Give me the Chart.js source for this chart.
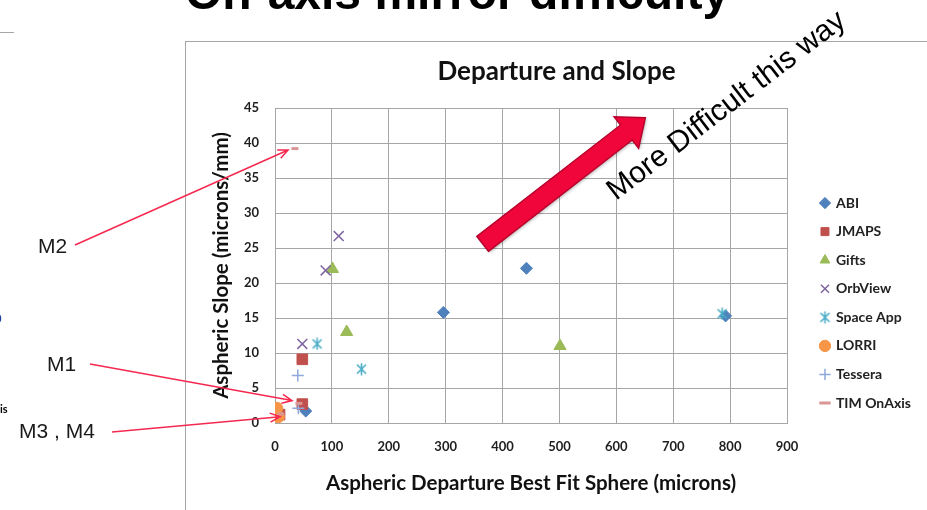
<!DOCTYPE html>
<html>
<head>
<meta charset="utf-8">
<script src="https://cdn.jsdelivr.net/npm/chart.js@4/dist/chart.umd.min.js"></script>
<style>
  html, body { margin: 0; padding: 0; background: #fff; }
  #wrap { width: 927px; height: 510px; position: relative; overflow: hidden; }
</style>
</head>
<body>
<div id="wrap"><canvas id="c" width="927" height="510"></canvas></div>
<script>
// ---- Data: aspheric departure (microns) vs aspheric slope (microns/mm) ----
const seriesNames = ['ABI', 'JMAPS', 'Gifts', 'OrbView', 'Space App', 'LORRI', 'Tessera', 'TIM OnAxis'];

const abi       = [[54, 1.7], [296, 15.8], [442, 22.1], [792, 15.3]];
const jmaps     = [[8, 1.2], [48, 9.1], [48, 2.7]];
const gifts     = [[101, 22.0], [126, 13.0], [501, 11.0]];
const orbView   = [[112, 26.7], [89, 21.8], [48, 11.3]];
const spaceApp  = [[74, 11.3], [152, 7.7], [786, 15.6]];
const lorri     = [[3, 2.1], [6, 0.9]];
const tessera   = [[40, 6.8], [41, 2.1]];
const timOnAxis = [[35, 39.2], [42, 2.8], [10, 1.3]];

const xTicks = [0, 100, 200, 300, 400, 500, 600, 700, 800, 900];
const yTicks = [0, 5, 10, 15, 20, 25, 30, 35, 40, 45];

const seriesPoints = [abi, jmaps, gifts, orbView, spaceApp, lorri, tessera, timOnAxis];

// ---- Marker styling (Office-style palette) ----
const seriesColors = ['#4F81BD', '#C0504D', '#9BBB59', '#8064A2', '#4BACC6', '#F79646', '#8EA9DB', '#D99694'];

function asteriskMarker(color) {
  const s = 13;
  const c = document.createElement('canvas');
  c.width = s; c.height = s;
  const g = c.getContext('2d');
  g.strokeStyle = color;
  g.lineWidth = 1.6;
  g.beginPath();
  g.moveTo(2, 2); g.lineTo(11, 11);
  g.moveTo(11, 2); g.lineTo(2, 11);
  g.moveTo(6.5, 0.5); g.lineTo(6.5, 12.5);
  g.stroke();
  return c;
}

const markerStyles = [
  { pointStyle: 'rectRot',  radius: 6,   borderWidth: 1 },
  { pointStyle: 'rect',     radius: 7.5, borderWidth: 1 },
  { pointStyle: 'triangle', radius: 7,   borderWidth: 1 },
  { pointStyle: 'crossRot', radius: 7,   borderWidth: 1.5 },
  { pointStyle: asteriskMarker(seriesColors[4]), radius: 6, borderWidth: 1.5 },
  { pointStyle: 'circle',   radius: 6,   borderWidth: 1 },
  { pointStyle: 'cross',    radius: 6,   borderWidth: 1.5 },
  { pointStyle: 'line',     radius: 3.5, borderWidth: 3 }
];

const datasets = seriesNames.map((name, i) => ({
  label: name,
  data: seriesPoints[i].map(p => ({ x: p[0], y: p[1] })),
  showLine: false,
  pointStyle: markerStyles[i].pointStyle,
  pointRadius: markerStyles[i].radius,
  pointHoverRadius: markerStyles[i].radius,
  pointBorderWidth: markerStyles[i].borderWidth,
  borderColor: seriesColors[i],
  backgroundColor: seriesColors[i],
  pointBackgroundColor: seriesColors[i],
  pointBorderColor: seriesColors[i],
  order: seriesNames.length - i   // later series drawn on top
}));

// ---- Annotation geometry (data coordinates for arrow ends inside the plot) ----
const trendArrow = { from: [365, 25.6], to: [651, 43.6] };
const callouts = [
  { text: 'M2',      tx: 38, ty: 247, sx: 75,  sy: 245, target: [23, 39.0] },
  { text: 'M1',      tx: 47, ty: 365, sx: 90,  sy: 364, target: [30, 3.2] },
  { text: 'M3 , M4', tx: 19, ty: 432, sx: 112, sy: 432, target: [9, 0.9] }
];

function openArrow(ctx, x1, y1, x2, y2) {
  const a = Math.atan2(y2 - y1, x2 - x1);
  const len = 11, spread = 0.42;
  ctx.beginPath();
  ctx.moveTo(x1, y1);
  ctx.lineTo(x2, y2);
  ctx.moveTo(x2 - len * Math.cos(a - spread), y2 - len * Math.sin(a - spread));
  ctx.lineTo(x2, y2);
  ctx.lineTo(x2 - len * Math.cos(a + spread), y2 - len * Math.sin(a + spread));
  ctx.stroke();
}

function blockArrow(ctx, tx, ty, px, py) {
  const dx = px - tx, dy = py - ty;
  const L = Math.hypot(dx, dy);
  const ux = dx / L, uy = dy / L, nx = -uy, ny = ux;
  const headLen = 24, sw = 9.5, hw = 20;
  const bx = px - ux * headLen, by = py - uy * headLen;
  const pts = [
    [tx + nx * sw, ty + ny * sw],
    [bx + nx * sw, by + ny * sw],
    [bx + nx * hw, by + ny * hw],
    [px, py],
    [bx - nx * hw, by - ny * hw],
    [bx - nx * sw, by - ny * sw],
    [tx - nx * sw, ty - ny * sw]
  ];
  ctx.beginPath();
  pts.forEach((p, i) => (i ? ctx.lineTo(p[0], p[1]) : ctx.moveTo(p[0], p[1])));
  ctx.closePath();
  ctx.save();
  ctx.shadowColor = 'rgba(0,0,0,0.25)';
  ctx.shadowBlur = 3;
  ctx.shadowOffsetX = 1.5;
  ctx.shadowOffsetY = 1.5;
  ctx.fillStyle = '#F0063A';
  ctx.fill();
  ctx.restore();
  ctx.lineWidth = 1.5;
  ctx.strokeStyle = '#B8022C';
  ctx.stroke();
}

// Slide elements around the chart: frame, heading, callouts and the trend arrow
const slideArt = {
  id: 'slideArt',
  beforeDraw(chart) {
    const ctx = chart.ctx;
    ctx.save();
    ctx.fillStyle = '#ffffff';
    ctx.fillRect(0, 0, chart.width, chart.height);
    ctx.strokeStyle = '#a6a6a6';
    ctx.lineWidth = 1;
    ctx.strokeRect(185.5, 41.5, 900, 600);
    ctx.beginPath();
    ctx.moveTo(0, 32.5); ctx.lineTo(14, 32.5);
    ctx.stroke();
    ctx.restore();
  },
  afterDraw(chart) {
    const ctx = chart.ctx;
    const xs = chart.scales.x, ys = chart.scales.y;
    ctx.save();

    // Slide heading (runs off the top edge)
    ctx.fillStyle = '#000';
    ctx.font = 'bold 48px "Liberation Sans", Arial, sans-serif';
    ctx.textBaseline = 'alphabetic';
    ctx.textAlign = 'left';
    ctx.fillText('On-axis mirror difficulty', 185, 9);

    // Fragments of neighbouring slide text
    ctx.font = 'bold 11px Lato, sans-serif';
    ctx.fillText('is', 0, 413);
    ctx.fillStyle = '#1F3F9F';
    ctx.font = '16px "Liberation Sans", sans-serif';
    ctx.fillText('o', -7, 323);

    // Callout labels and arrows
    ctx.fillStyle = '#1a1a1a';
    ctx.font = '21px "Liberation Sans", Arial, sans-serif';
    ctx.textBaseline = 'middle';
    ctx.strokeStyle = '#F5294F';
    ctx.lineWidth = 1.5;
    callouts.forEach(c => {
      ctx.fillText(c.text, c.tx, c.ty);
      openArrow(ctx, c.sx, c.sy, xs.getPixelForValue(c.target[0]), ys.getPixelForValue(c.target[1]));
    });

    // Trend arrow
    blockArrow(ctx,
      xs.getPixelForValue(trendArrow.from[0]), ys.getPixelForValue(trendArrow.from[1]),
      xs.getPixelForValue(trendArrow.to[0]), ys.getPixelForValue(trendArrow.to[1]));

    // Rotated caption
    ctx.translate(616, 201);
    ctx.rotate(-37.4 * Math.PI / 180);
    ctx.fillStyle = '#000';
    ctx.font = '30px "Liberation Sans", Arial, sans-serif';
    ctx.textBaseline = 'alphabetic';
    ctx.fillText('More Difficult this way', 0, 0);
    ctx.restore();
  }
};

// Fixed-width legend column to the right of the plot
const legendPlacement = {
  id: 'legendPlacement',
  beforeLayout(chart) {
    const lg = chart.legend;
    if (lg && !lg.$fixedWidth) {
      const fit = lg.fit;
      lg.fit = function () { fit.call(this); this.width = 140; };
      lg.$fixedWidth = true;
    }
  },
  afterLayout(chart) {
    const lg = chart.legend;
    if (!lg) return;
    lg.left += 19.4; lg.right += 19.4;
    lg.top += 1.6; lg.bottom += 1.6;
  }
};

Chart.defaults.font.family = 'Lato, "Open Sans", sans-serif';

const tickFont = { family: 'Lato', size: 13, weight: 'bold' };
const axisTitleFont = { family: 'Lato', size: 20.5, weight: 'bold' };
const gridColor = '#a6a6a6';

new Chart(document.getElementById('c'), {
  type: 'scatter',
  data: { datasets },
  options: {
    responsive: false,
    devicePixelRatio: 1,
    animation: false,
    layout: { padding: { left: 186, top: 42, right: 0, bottom: 0 } },
    plugins: {
      title: {
        display: true,
        text: 'Departure and Slope',
        color: '#111',
        font: { family: 'Lato', size: 26, weight: 'bold' },
        padding: { top: 14.4, bottom: 20.4 }
      },
      legend: {
        display: true,
        position: 'right',
        align: 'end',
        fullSize: false,
        labels: {
          usePointStyle: true,
          boxWidth: 8,
          boxHeight: 8,
          padding: 14.57,
          color: '#222',
          font: { family: 'Lato', size: 14, weight: 'bold' },
          sort: (a, b) => a.datasetIndex - b.datasetIndex
        }
      },
      tooltip: { enabled: false }
    },
    scales: {
      x: {
        type: 'linear',
        min: xTicks[0],
        max: xTicks[xTicks.length - 1],
        afterBuildTicks: s => { s.ticks = xTicks.map(v => ({ value: v })); },
        afterFit: s => { s.height = 87; },
        grid: { color: gridColor, drawTicks: false },
        border: { color: gridColor },
        ticks: { font: tickFont, color: '#1e1e1e', padding: 16, autoSkip: false, maxRotation: 0 },
        title: {
          display: true,
          text: 'Aspheric Departure Best Fit Sphere (microns)',
          color: '#111',
          font: axisTitleFont,
          padding: { top: 0, bottom: 14.7 }
        }
      },
      y: {
        type: 'linear',
        min: yTicks[0],
        max: yTicks[yTicks.length - 1],
        afterBuildTicks: s => { s.ticks = yTicks.map(v => ({ value: v })); },
        afterFit: s => { s.width = 89; },
        grid: { color: gridColor, drawTicks: false },
        border: { color: gridColor },
        ticks: { font: tickFont, color: '#1e1e1e', padding: 16, autoSkip: false },
        title: {
          display: true,
          text: 'Aspheric Slope (microns/mm)',
          color: '#111',
          font: axisTitleFont,
          padding: { top: 22.7, bottom: 0 }
        }
      }
    }
  },
  plugins: [legendPlacement, slideArt]
});
</script>
</body>
</html>
